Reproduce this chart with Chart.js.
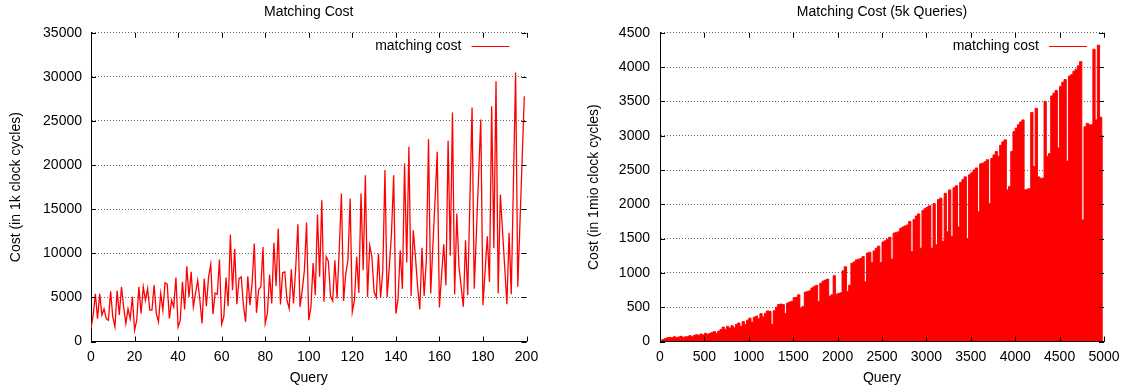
<!DOCTYPE html>
<html>
<head>
<meta charset="utf-8">
<script src="https://cdn.jsdelivr.net/npm/chart.js@4.4.1/dist/chart.umd.min.js"></script>
<style>
  body { margin: 0; background: #fff; }
  #wrap { position: relative; width: 1126px; height: 389px; }
  canvas { position: absolute; top: 0; }
  #left { left: 0; }
  #right { left: 563px; }
</style>
</head>
<body>
<div id="wrap">
  <canvas id="left" width="563" height="389"></canvas>
  <canvas id="right" width="563" height="389"></canvas>
</div>
<script>
// cost per query, first 200 queries (1k clock cycles)
const cost200 = [
  1470, 3000, 5400, 2600, 5400, 3000, 3700, 2600, 2400, 5700,
  2800, 1660, 5740, 3000, 6200, 3930, 2040, 3700, 2600, 5060,
  1280, 2400, 6200, 3170, 6200, 4680, 6000, 3550, 3550, 6400,
  3170, 2230, 5440, 3550, 6650, 6500, 2600, 4680, 3930, 7250,
  1660, 2400, 6760, 3630, 8540, 5060, 7900, 3930, 5440, 6950,
  4680, 2040, 7150, 4000, 7330, 8760, 3100, 5500, 5360, 9300,
  1960, 2800, 7250, 4000, 12090, 5820, 10500, 4230, 7150, 7330,
  4120, 2230, 7400, 4120, 6650, 11100, 3250, 5900, 6200, 10700,
  2040, 3170, 7600, 4300, 11200, 6300, 12800, 4190, 7800, 7900,
  4680, 3740, 8200, 4300, 8280, 13300, 3930, 5800, 8080, 13500,
  2420, 3930, 8900, 5250, 14400, 7330, 16000, 4500, 9600, 9100,
  5170, 4600, 9220, 4870, 10340, 16780, 4600, 7700, 9220, 16200,
  3360, 4680, 9600, 5500, 16780, 8080, 18860, 5060, 10880, 9600,
  5630, 4990, 9980, 4990, 8000, 19430, 5060, 8460, 12240, 18860,
  3170, 4750, 10340, 5970, 20180, 8950, 22070, 5170, 12620, 9600,
  6200, 3630, 10640, 5170, 9220, 22940, 5440, 10800, 16000, 21500,
  3860, 7500, 11030, 6350, 22750, 9710, 25970, 5330, 14510, 8470,
  6200, 3930, 11490, 5250, 15900, 26530, 5970, 12400, 18800, 25170,
  4120, 8000, 11940, 6760, 26680, 10600, 29520, 5440, 16670, 12500,
  8400, 4230, 12320, 5360, 18000, 30500, 6200, 13400, 20600, 27800
];

// 5k run: highest cost seen in each 25-query bucket (1mio clock cycles)
const bucket5k = 25;
const cost5k = [
  20, 30, 45, 55,        60, 55, 70, 60,        65, 75, 60, 70,        70, 85, 70, 90,
  100, 90, 110, 95,      120, 105, 115, 130,    145, 120, 150, 175,    210, 180, 220, 195,
  230, 200, 250, 270,    220, 290, 250, 310,    340, 280, 355, 370,    330, 405, 360, 412,
  446, 440, 250, 450,    500, 540, 545, 540,    410, 560, 575, 585,    640, 645, 680, 490,
  510, 720, 730, 740,    780, 800, 820, 585,    850, 880, 895, 910,    660, 680, 960, 690,
  700, 710, 1030, 1090,  730, 820, 1140, 1160,  1190, 1200, 1210, 1240, 870, 1290, 1300, 1150,
  1320, 1360, 1390, 1150, 1450, 1470, 1490, 1520, 1200, 1580, 1590, 1600, 1650, 1670, 1685, 1700,
  1750, 1310, 1780, 1830, 1860, 1360, 1910, 1940, 1960, 1980, 1360, 2010, 1410, 2070, 2090, 1460,
  2160, 1600, 2210, 1530, 2240, 2270, 1670, 2320, 2360, 2400, 1500, 2430, 2460, 2500, 2530, 1890,
  2590, 2600, 2620, 2650, 2010, 2670, 2720, 2770, 2700, 2860, 2910, 2940, 2210, 2260, 2770, 3060,
  3110, 3160, 3200, 3230, 2210, 2220, 2230, 3340, 2550, 3400, 2400, 2380, 2380, 3500, 2700, 2740,
  3580, 3620, 3660, 2820, 3720, 3780, 3820, 2630, 3870, 3890, 3940, 3970, 4020, 4080, 1770, 3130,
  3180, 3160, 3160, 4260, 3230, 4320, 3270, 2980
];

Chart.defaults.font.family = '"Liberation Sans", Arial, Helvetica, sans-serif';
Chart.defaults.font.size = 14;
Chart.defaults.color = '#000';

// gnuplot style: inward ticks on all four sides + key at top right
const gnuFrame = {
  id: 'gnuFrame',
  afterDraw(chart) {
    const {ctx, chartArea: a, scales: {x, y}} = chart;
    const tl = 5;
    ctx.save();
    ctx.strokeStyle = '#000';
    ctx.lineWidth = 1;
    ctx.beginPath();
    x.ticks.forEach(t => {
      const px = Math.round(x.getPixelForValue(t.value)) + 0.5;
      ctx.moveTo(px, a.bottom); ctx.lineTo(px, a.bottom - tl);
      ctx.moveTo(px, a.top); ctx.lineTo(px, a.top + tl);
    });
    y.ticks.forEach(t => {
      const py = Math.round(y.getPixelForValue(t.value)) + 0.5;
      ctx.moveTo(a.left, py); ctx.lineTo(a.left + tl, py);
      ctx.moveTo(a.right, py); ctx.lineTo(a.right - tl, py);
    });
    ctx.stroke();

    const ds = chart.data.datasets[0];
    const ky = Math.round(a.top + 13.5) + 0.5;
    ctx.font = '14px "Liberation Sans", Arial, sans-serif';
    ctx.fillStyle = '#000';
    ctx.textAlign = 'right';
    ctx.textBaseline = 'middle';
    ctx.fillText(ds.label, a.right - 65, ky);
    ctx.strokeStyle = ds.borderColor;
    ctx.beginPath();
    ctx.moveTo(a.right - 55, ky);
    ctx.lineTo(a.right - 17, ky);
    ctx.stroke();
    ctx.restore();
  }
};

function makeChart(id, cfg) {
  return new Chart(document.getElementById(id), {
    type: 'line',
    data: {
      datasets: [{
        label: 'matching cost',
        data: cfg.points,
        borderColor: '#ff0000',
        backgroundColor: '#ff0000',
        borderWidth: cfg.lineWidth,
        pointRadius: 0,
        fill: cfg.fill,
        stepped: cfg.stepped,
        tension: 0
      }]
    },
    options: {
      responsive: false,
      animation: false,
      devicePixelRatio: 1,
      layout: { padding: { left: 0, right: cfg.padRight, top: 0, bottom: 0 } },
      plugins: {
        legend: { display: false },
        tooltip: { enabled: false },
        title: {
          display: true, text: cfg.title, fullSize: false, color: '#000',
          font: { size: 14, weight: 'normal' },
          padding: { top: 4, bottom: 12 }
        }
      },
      scales: {
        x: {
          type: 'linear', min: 0, max: cfg.xMax,
          afterFit: s => { s.height = 47.5; },
          grid: { display: false },
          border: { display: true, color: '#000', width: 1 },
          ticks: { stepSize: cfg.xStep, padding: -1, maxRotation: 0, autoSkip: false, callback: v => String(v) },
          title: { display: true, text: 'Query', padding: { top: 0, bottom: 2 } }
        },
        y: {
          min: 0, max: cfg.yMax,
          afterFit: s => { s.width = cfg.yWidth; },
          grid: { color: '#666', drawTicks: false },
          border: { display: true, color: '#000', width: 1, dash: [1, 2] },
          ticks: { stepSize: cfg.yStep, padding: cfg.yPad, callback: v => String(v) },
          title: { display: true, text: cfg.yTitle, padding: { top: cfg.yTitlePad, bottom: 0 } }
        }
      }
    },
    plugins: [gnuFrame]
  });
}

makeChart('left', {
  title: 'Matching Cost',
  yTitle: 'Cost (in 1k clock cycles)',
  points: cost200.map((v, i) => ({ x: i, y: v })),
  fill: false, stepped: false, lineWidth: 1.3,
  xMax: 200, xStep: 20, yMax: 35000, yStep: 5000,
  padRight: 36.5, yWidth: 91, yPad: 9, yTitlePad: 7.6
});

makeChart('right', {
  title: 'Matching Cost (5k Queries)',
  yTitle: 'Cost (in 1mio clock cycles)',
  points: cost5k.map((v, i) => ({ x: i * bucket5k + bucket5k / 2, y: v })),
  fill: 'origin', stepped: 'middle', lineWidth: 1,
  xMax: 5000, xStep: 500, yMax: 4500, yStep: 500,
  padRight: 22, yWidth: 97, yPad: 10, yTitlePad: 22.6
});
</script>
</body>
</html>
